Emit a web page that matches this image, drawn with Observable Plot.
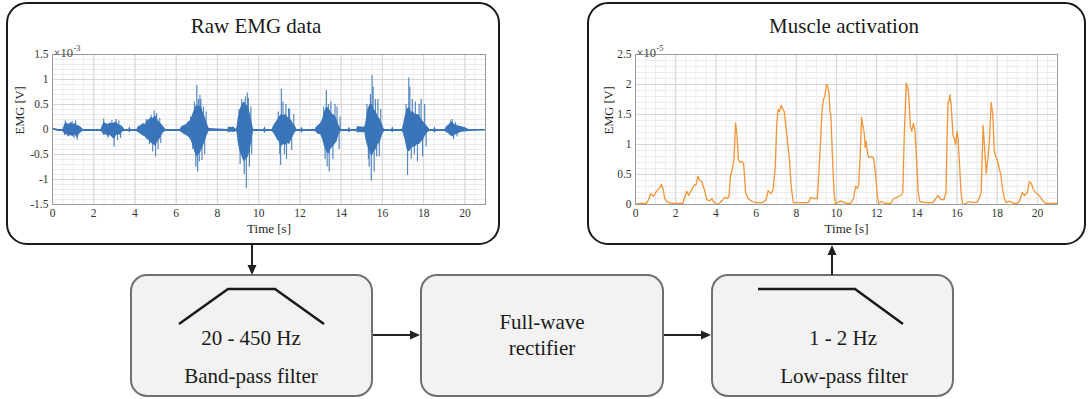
<!DOCTYPE html>
<html><head><meta charset="utf-8">
<script src="https://cdn.jsdelivr.net/npm/d3@7"></script>
<script src="https://cdn.jsdelivr.net/npm/@observablehq/plot@0.6"></script>
<style>
body{margin:0;background:#fff;}
#wrap{position:relative;width:1089px;height:399px;overflow:hidden;font-family:'Liberation Serif',serif;background:#fff;}
.chart{position:absolute;top:40px;}
#left{left:0px}
#right{left:580px}
#diagram{position:absolute;left:0;top:0;pointer-events:none}
#diagram text{font-family:'Liberation Serif',serif;}
</style></head><body>
<div id="wrap">
<div class="chart" id="left"></div>
<div class="chart" id="right"></div>
<svg id="diagram" width="1089" height="399" viewBox="0 0 1089 399">
  <g fill="none" stroke="#1a1a1a" stroke-width="2">
    <rect x="7" y="3" width="492" height="241" rx="20"/>
    <rect x="588" y="3" width="497" height="241" rx="20"/>
  </g>
  <g fill="#f2f2f2" stroke="#707070" stroke-width="2">
    <rect x="131" y="275" width="241" height="121" rx="16"/>
    <rect x="421" y="275" width="242" height="121" rx="16"/>
    <rect x="712" y="275" width="241" height="121" rx="16"/>
  </g>
  <g stroke="#222" stroke-width="2" fill="#222">
    <line x1="252" y1="245" x2="252" y2="268"/>
    <polygon points="252,275 247.5,265 256.5,265" stroke="none"/>
    <line x1="832" y1="275" x2="832" y2="252"/>
    <polygon points="832,245 827.5,255 836.5,255" stroke="none"/>
    <line x1="373" y1="335" x2="413" y2="335"/>
    <polygon points="420,335 410,330.5 410,339.5" stroke="none"/>
    <line x1="664" y1="335" x2="704" y2="335"/>
    <polygon points="711,335 701,330.5 701,339.5" stroke="none"/>
  </g>
  <g fill="none" stroke="#1a1a1a" stroke-width="2.5">
    <polyline points="179,324 228,289 275,289 324,324"/>
    <polyline points="758,289 855,289 903,324"/>
  </g>
  <g fill="#1a1a1a" font-size="21" text-anchor="middle" font-family="Liberation Serif">
    <text x="256" y="33">Raw EMG data</text>
    <text x="844" y="33">Muscle activation</text>
    <text x="251" y="345">20 - 450 Hz</text>
    <text x="251" y="383">Band-pass filter</text>
    <text x="542" y="329">Full-wave</text>
    <text x="542" y="355">rectifier</text>
    <text x="843" y="345">1 - 2 Hz</text>
    <text x="844" y="383">Low-pass filter</text>
  </g>
</svg>
</div>
<script>
// ---------- Raw EMG (x 1e-3 V): envelope of dense signal body ----------
const rawT  = [0,0.3,0.5,0.55,0.6,0.7,0.8,0.9,1.0,1.1,1.2,1.3,1.4,1.5,2.35,2.4,2.5,2.6,2.7,2.8,2.9,3.0,3.1,3.2,3.3,3.4,3.5,3.7,3.75,3.8,4.1,4.15,4.3,4.4,4.5,4.6,4.7,4.8,4.9,5.0,5.1,5.2,5.3,5.4,5.5,6.2,6.25,6.4,6.5,6.6,6.7,6.8,6.9,7.0,7.1,7.2,7.3,7.4,7.5,7.6,8.5,8.55,8.65,8.8,8.9,8.95,9.0,9.1,9.2,9.3,9.4,9.5,9.6,9.7,9.75,10.25,10.3,10.35,10.65,10.7,10.8,10.9,11.0,11.1,11.2,11.3,11.4,11.5,11.6,11.7,11.8,11.85,12.05,12.1,12.15,12.75,12.8,12.9,13.0,13.1,13.2,13.3,13.4,13.5,13.6,13.7,13.8,13.9,14.0,14.35,14.4,14.45,14.75,14.8,14.95,15.05,15.15,15.2,15.3,15.4,15.5,15.6,15.7,15.8,15.9,16.0,16.1,16.45,16.5,16.55,16.95,17.0,17.1,17.2,17.3,17.4,17.5,17.6,17.7,17.8,17.9,18.0,18.1,18.2,18.3,18.5,18.55,18.6,19.05,19.1,19.2,19.3,19.4,19.5,19.6,19.8,20.0,20.2,21];
const rawLo = [-0.01,-0.04,-0.04,-0.06,-0.12,-0.10,-0.14,-0.12,-0.15,-0.10,-0.17,-0.10,-0.06,-0.04,-0.04,-0.05,-0.12,-0.10,-0.14,-0.12,-0.16,-0.20,-0.12,-0.10,-0.12,-0.05,-0.04,-0.04,-0.07,-0.04,-0.04,-0.06,-0.10,-0.13,-0.15,-0.20,-0.22,-0.28,-0.30,-0.34,-0.25,-0.20,-0.12,-0.06,-0.04,-0.04,-0.06,-0.10,-0.12,-0.15,-0.20,-0.30,-0.45,-0.55,-0.50,-0.45,-0.35,-0.25,-0.12,-0.04,-0.04,-0.07,-0.05,-0.06,-0.04,-0.06,-0.25,-0.45,-0.55,-0.65,-0.60,-0.55,-0.40,-0.15,-0.04,-0.04,-0.08,-0.04,-0.04,-0.06,-0.12,-0.20,-0.25,-0.35,-0.30,-0.32,-0.28,-0.30,-0.20,-0.12,-0.05,-0.04,-0.04,-0.08,-0.04,-0.04,-0.06,-0.10,-0.10,-0.20,-0.35,-0.45,-0.50,-0.40,-0.35,-0.30,-0.25,-0.10,-0.04,-0.04,-0.07,-0.04,-0.04,-0.07,-0.06,-0.07,-0.06,-0.20,-0.35,-0.45,-0.55,-0.45,-0.40,-0.30,-0.25,-0.12,-0.04,-0.04,-0.07,-0.04,-0.04,-0.06,-0.20,-0.40,-0.45,-0.40,-0.35,-0.35,-0.30,-0.30,-0.25,-0.20,-0.12,-0.06,-0.04,-0.04,-0.08,-0.04,-0.04,-0.06,-0.08,-0.12,-0.15,-0.12,-0.10,-0.06,-0.05,-0.04,-0.03];
const rawHi = [0.03,0.0,0.0,0.05,0.10,0.13,0.10,0.14,0.10,0.12,0.08,0.07,0.04,0.0,0.0,0.05,0.14,0.12,0.10,0.13,0.12,0.13,0.15,0.10,0.08,0.06,0.0,0.0,0.06,0.0,0.0,0.05,0.08,0.12,0.10,0.17,0.20,0.24,0.22,0.28,0.20,0.14,0.10,0.05,0.0,0.0,0.05,0.08,0.10,0.15,0.18,0.30,0.40,0.50,0.45,0.48,0.35,0.25,0.12,0.02,0.0,0.05,0.04,0.05,0.0,0.05,0.20,0.40,0.50,0.55,0.50,0.45,0.30,0.10,0.0,0.0,0.06,0.0,0.0,0.05,0.12,0.18,0.25,0.30,0.28,0.30,0.25,0.22,0.18,0.10,0.05,0.0,0.0,0.05,0.0,0.0,0.05,0.08,0.12,0.20,0.35,0.45,0.42,0.35,0.30,0.28,0.20,0.08,0.0,0.0,0.05,0.0,0.0,0.06,0.05,0.05,0.05,0.15,0.40,0.50,0.50,0.40,0.35,0.25,0.20,0.10,0.0,0.0,0.06,0.0,0.0,0.05,0.25,0.40,0.45,0.35,0.35,0.30,0.30,0.28,0.20,0.15,0.10,0.05,0.0,0.0,0.06,0.0,0.0,0.05,0.08,0.12,0.15,0.10,0.08,0.06,0.04,0.0,0.0];
// ---------- Raw EMG: individual spikes (time s, peak x 1e-3 V) ----------
const spikeT = [0.62,0.75,0.95,1.12,1.2,1.05, 2.48,2.7,2.88,2.99,3.08,3.15,3.22,3.3, 4.55,4.7,4.78,4.86,4.93,5.0,5.05,5.12,5.2,5.25, 6.7,6.8,6.88,6.95,7.0,7.04,7.08,7.12,7.15,7.2,7.25,7.32,7.38,7.45, 9.05,9.1,9.18,9.25,9.3,9.35,9.4,9.45,9.5,9.55,9.62,9.66, 10.95,11.02,11.1,11.06,11.18,11.25,11.32,11.35,11.45,11.5,11.6,11.7, 13.15,13.22,13.28,13.32,13.38,13.42,13.5,13.6,13.7,13.8,13.9,13.95, 15.25,15.32,15.36,15.42,15.46,15.5,15.55,15.6,15.66,15.72,15.78,15.85,15.92, 17.15,17.22,17.28,17.33,17.4,17.45,17.55,17.6,17.7,17.78,17.88,17.95,18.05,18.12, 19.3,19.38,19.45,19.55,19.62];
const spikeV = [0.17,-0.15,0.16,0.17,-0.21,-0.18, 0.21,-0.18,0.18,-0.35,0.2,-0.22,0.17,-0.18, 0.2,-0.3,0.28,-0.45,0.37,-0.55,0.32,-0.4,0.22,-0.28, 0.25,-0.4,0.55,-0.75,0.88,-0.85,0.6,-0.65,0.68,0.6,-0.62,0.45,-0.5,0.35, 0.4,-0.7,0.6,-0.6,-0.9,0.65,-1.18,0.73,0.62,-0.75,0.45,-0.5, 0.35,-0.5,0.8,-0.72,0.55,-0.5,0.5,-0.6,0.42,0.4,-0.42,0.3, 0.45,-0.6,0.78,-0.75,0.5,-0.85,0.55,-0.6,0.5,0.45,-0.4,0.25, 0.5,-0.6,-0.75,0.7,-1.03,1.08,0.85,-0.85,0.6,-0.55,0.6,-0.55,0.4, 0.5,-0.92,1.03,0.85,-0.6,0.6,-0.5,0.55,-0.65,0.5,0.6,-0.55,0.5,-0.35, 0.17,0.2,-0.2,0.14,-0.15];
// ---------- Muscle activation (x 1e-5 V) ----------
const actT = [0,0.15,0.55,0.65,0.75,0.9,1.0,1.1,1.2,1.3,1.38,1.45,1.6,1.8,2.35,2.45,2.55,2.65,2.8,2.95,3.02,3.1,3.2,3.3,3.45,3.55,3.7,3.8,3.9,4.05,4.2,4.35,4.45,4.55,4.65,4.72,4.82,4.9,4.98,5.05,5.12,5.2,5.3,5.38,5.48,5.6,5.8,6.0,6.3,6.5,6.6,6.75,6.85,6.95,7.03,7.1,7.17,7.25,7.32,7.4,7.55,7.65,7.75,7.85,8.6,8.72,8.85,9.05,9.12,9.2,9.28,9.35,9.42,9.5,9.57,9.63,9.68,9.72,9.8,9.88,9.95,10.05,10.2,10.35,10.5,10.7,10.85,10.95,11.05,11.1,11.18,11.25,11.3,11.38,11.43,11.48,11.55,11.62,11.75,11.85,11.95,12.03,12.1,12.25,12.4,12.7,12.85,13.0,13.2,13.3,13.38,13.47,13.55,13.6,13.68,13.75,13.83,13.9,13.98,14.07,14.15,14.4,14.8,14.95,15.05,15.2,15.35,15.45,15.5,15.55,15.6,15.65,15.72,15.8,15.87,15.93,16.0,16.05,16.12,16.2,16.28,16.45,16.6,16.8,17.0,17.1,17.2,17.3,17.38,17.45,17.55,17.62,17.7,17.78,17.85,17.92,18.0,18.1,18.18,18.25,18.35,18.45,18.55,18.65,18.8,19.0,19.1,19.25,19.35,19.5,19.6,19.7,19.8,19.9,20.0,20.15,20.3,20.4,21];
const actV = [0,0.02,0.02,0.08,0.18,0.14,0.2,0.24,0.28,0.33,0.25,0.1,0.04,0.02,0.02,0.12,0.22,0.15,0.25,0.33,0.33,0.47,0.4,0.38,0.22,0.08,0.06,0.1,0.04,0.0,0.03,0.08,0.12,0.1,0.13,0.45,0.6,0.75,1.36,1.15,0.75,0.7,0.72,0.68,0.2,0.1,0.05,0.03,0.03,0.08,0.23,0.18,0.26,0.6,1.35,1.58,1.55,1.65,1.6,1.55,1.1,0.8,0.3,0.03,0.03,0.12,0.1,0.1,0.5,1.0,1.55,1.75,1.8,2.0,1.97,1.85,1.55,1.5,0.8,0.2,0.0,0.03,0.06,0.04,0.02,0.02,0.1,0.3,0.27,0.32,0.8,1.45,1.35,1.2,0.95,1.05,0.85,0.78,0.8,0.77,0.5,0.15,0.02,0.05,0.02,0.02,0.1,0.12,0.15,0.2,1.2,2.02,1.95,1.8,1.3,1.22,1.35,1.25,0.8,0.2,0.05,0.03,0.03,0.1,0.15,0.08,0.08,0.2,1.0,1.7,1.72,1.83,1.6,1.15,1.1,1.0,1.22,1.1,0.7,0.2,0.0,0.02,0.05,0.03,0.04,0.1,0.2,1.32,0.9,0.52,0.8,1.1,1.7,1.5,0.9,0.8,0.75,0.6,0.5,0.3,0.1,0.03,0.05,0.05,0.02,0.02,0.05,0.2,0.15,0.2,0.38,0.35,0.25,0.2,0.18,0.12,0.05,0.02,0.02];
// ---------- Axes ----------
const xTicks = [0,2,4,6,8,10,12,14,16,18,20];
const rawYTicks = [-1.5,-1,-0.5,0,0.5,1,1.5];
const actYTicks = [0,0.5,1,1.5,2,2.5];
const xLabel = "Time [s]";
const yLabel = "EMG [V]";
const rawExp = "-3";
const actExp = "-5";

const BLUE = "#3a74b9";
const ORANGE = "#f39436";
const SERIF = "'Liberation Serif', serif";
const fmt = d => String(+d.toFixed(1));

function frameMarks(ydomain, yStep, yTicks, exp, ylabelDx) {
  return {
    under: [
      Plot.ruleX(d3.range(0, 21.001, 0.5), {stroke: "#ececec", strokeWidth: 1}),
      Plot.ruleY(d3.range(ydomain[0], ydomain[1] + 1e-9, yStep / 5), {stroke: "#ececec", strokeWidth: 1}),
      Plot.ruleX(xTicks, {stroke: "#d6d6d6", strokeWidth: 1}),
      Plot.ruleY(yTicks, {stroke: "#d6d6d6", strokeWidth: 1})
    ],
    over: [
      Plot.frame({stroke: "#9a9a9a", strokeWidth: 1}),
      Plot.axisX({ticks: xTicks, tickSize: 0, tickPadding: 4, tickFormat: fmt, label: null, fill: "#333", fontFamily: SERIF, fontSize: 11.5}),
      Plot.axisY({ticks: yTicks, tickSize: 0, tickPadding: 4, tickFormat: fmt, label: null, fill: "#333", fontFamily: SERIF, fontSize: 11.5}),
      Plot.text([xLabel], {text: d => d, frameAnchor: "bottom", dy: 28, fontSize: 13, fill: "#262626", fontFamily: SERIF}),
      Plot.text([yLabel], {text: d => d, frameAnchor: "left", dx: ylabelDx, dy: 5, rotate: -90, fontSize: 12.5, fill: "#262626", fontFamily: SERIF}),
      Plot.text(["\u00d710"], {text: d => d, frameAnchor: "top-left", textAnchor: "start", dx: 1, dy: -6, fontSize: 12.5, fill: "#444", fontFamily: SERIF}),
      Plot.text([exp], {text: d => d, frameAnchor: "top-left", textAnchor: "start", dx: 21, dy: -10, fontSize: 8.5, fill: "#444", fontFamily: SERIF})
    ]
  };
}

const rawRows = rawT.map((t, i) => ({t, lo: rawLo[i], hi: rawHi[i]}));
const spikeRows = spikeT.map((t, i) => ({t, v: spikeV[i]}));
const actRows = actT.map((t, i) => ({t, v: actV[i]}));

const style = {fontFamily: SERIF, fontSize: "12px", color: "#333", background: "transparent", overflow: "visible"};

const fl = frameMarks([-1.5, 1.5], 0.5, rawYTicks, rawExp, -33);
const leftPlot = Plot.plot({
  width: 495, height: 200,
  marginLeft: 52, marginRight: 10, marginTop: 14, marginBottom: 36,
  style,
  x: {domain: [0, 21]},
  y: {domain: [-1.5, 1.5]},
  marks: [
    ...fl.under,
    Plot.areaY(rawRows, {x: "t", y1: "lo", y2: "hi", fill: BLUE, curve: "linear"}),
    Plot.ruleX(spikeRows, {x: "t", y1: 0, y2: "v", stroke: BLUE, strokeWidth: 1.2, strokeOpacity: 0.85}),
    ...fl.over
  ]
});
document.getElementById("left").appendChild(leftPlot);

const fr = frameMarks([0, 2.5], 0.5, actYTicks, actExp, -27);
const rightPlot = Plot.plot({
  width: 487, height: 200,
  marginLeft: 55, marginRight: 10, marginTop: 14, marginBottom: 36,
  style,
  x: {domain: [0, 21]},
  y: {domain: [0, 2.5]},
  marks: [
    ...fr.under,
    Plot.line(actRows, {x: "t", y: "v", stroke: ORANGE, strokeWidth: 1.3, curve: "linear"}),
    ...fr.over
  ]
});
document.getElementById("right").appendChild(rightPlot);
</script>
</body></html>
